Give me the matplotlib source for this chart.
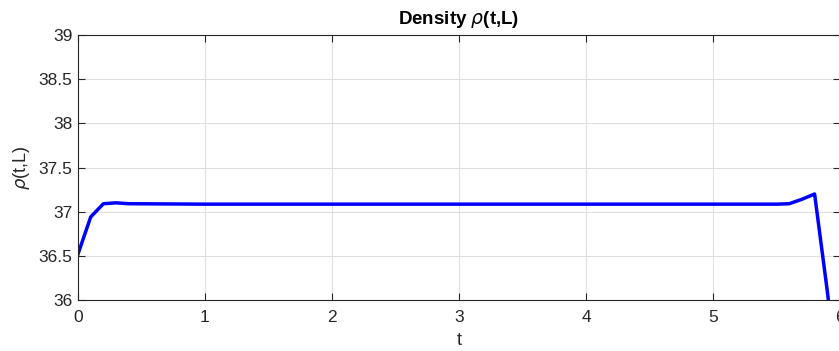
import numpy as np
import matplotlib.pyplot as plt

# density at the outlet
t = [0.0, 0.1, 0.2, 0.3, 0.4, 1.0, 2.0, 3.0, 4.0, 5.0, 5.5, 5.6, 5.7, 5.8, 5.9, 6.0]
rho = [36.52, 36.94, 37.09, 37.10, 37.09, 37.085, 37.085, 37.085, 37.085, 37.085, 37.085, 37.09, 37.14, 37.20, 36.1, 34.9]

xticks = [0, 1, 2, 3, 4, 5, 6]
yticks = [36, 36.5, 37, 37.5, 38, 38.5, 39]

plt.rcParams['font.family'] = ['Liberation Sans', 'DejaVu Sans']

fig = plt.figure(figsize=(8.39, 3.51), dpi=100)
ax = fig.add_axes([78/839, 1 - 300/351, 762/839, 265/351])
ax.plot(t, rho, color='#0000ff', linewidth=2.5)
ax.set_xlim(0, 6)
ax.set_ylim(36, 39)
ax.set_xticks(xticks)
ax.set_yticks(yticks)
ax.set_yticklabels(['36', '36.5', '37', '37.5', '38', '38.5', '39'])
ax.grid(True, color='#dfdfdf', linewidth=0.8)
ax.set_axisbelow(True)
ax.tick_params(direction='in', length=5, labelsize=12.5, colors='#262626', top=True, right=True, pad=4)
ax.tick_params(axis='x', pad=7)
for s in ax.spines.values():
    s.set_color('#262626')
    s.set_linewidth(0.8)
ax.set_title(r'Density $\rho$(t,L)', fontsize=13.5, fontweight='bold', pad=8)
ax.set_xlabel('t', fontsize=13, color='#262626', labelpad=5)
ax.set_ylabel(r'$\rho$(t,L)', fontsize=13, color='#262626', labelpad=5)

fig.savefig('out.png', dpi=100)
